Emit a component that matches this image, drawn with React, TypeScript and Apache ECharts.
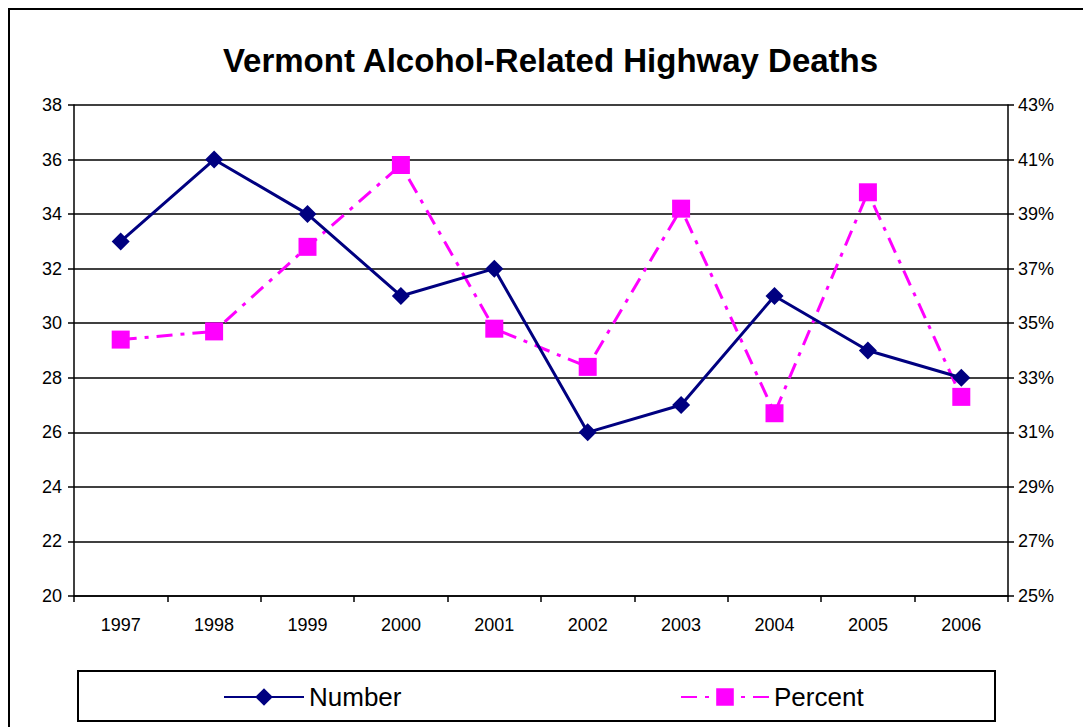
import React, { useEffect, useRef } from "react";
import * as echarts from "echarts";

const years = ["1997", "1998", "1999", "2000", "2001", "2002", "2003", "2004", "2005", "2006"];
const numberValues = [33, 36, 34, 31, 32, 26, 27, 31, 29, 28];
const percentValues = [34.4, 34.7, 37.8, 40.8, 34.8, 33.4, 39.2, 31.7, 39.8, 32.3];
const titleText = "Vermont Alcohol-Related Highway Deaths";

const FONT = "'Liberation Sans', Arial, sans-serif";

export default function App() {
  const ref = useRef<HTMLDivElement>(null);
  useEffect(() => {
    if (!ref.current) return;
    const chart = echarts.init(ref.current, null, { renderer: "svg" });
    chart.setOption({
      animation: false,
      backgroundColor: "#fff",
      textStyle: { fontFamily: FONT, color: "#000" },
      title: {
        text: titleText,
        left: "center",
        top: 29,
        textStyle: { fontFamily: FONT, fontSize: 33, fontWeight: "bold", color: "#000" },
      },
      grid: { left: 64, right: 83, top: 95, bottom: 131, containLabel: false },
      legend: [
        {
          data: ["Number"],
          left: 208,
          top: 669,
          itemWidth: 80,
          itemHeight: 22,
          itemGap: 6,
          textStyle: { fontFamily: FONT, fontSize: 26, color: "#000" },
        },
        {
          data: ["Percent"],
          left: 665,
          top: 669,
          itemWidth: 88,
          itemHeight: 22,
          itemGap: 6,
          textStyle: { fontFamily: FONT, fontSize: 26, color: "#000" },
        },
      ],
      xAxis: {
        type: "category",
        data: years,
        boundaryGap: true,
        axisLine: { show: true, lineStyle: { color: "#000", width: 1.5 } },
        axisTick: { show: true, interval: 0, length: 6, lineStyle: { color: "#000", width: 1.5 } },
        axisLabel: { fontFamily: FONT, fontSize: 18, color: "#000", margin: 20, interval: 0 },
        splitLine: { show: false },
      },
      yAxis: [
        {
          type: "value",
          min: 20,
          max: 38,
          interval: 2,
          axisLine: { show: true, lineStyle: { color: "#000", width: 1.5 } },
          axisTick: { show: true, length: 6, lineStyle: { color: "#000", width: 1.5 } },
          axisLabel: { fontFamily: FONT, fontSize: 18, color: "#000", margin: 12 },
          splitLine: { show: true, lineStyle: { color: "#000", width: 1.5 } },
        },
        {
          type: "value",
          min: 25,
          max: 43,
          interval: 2,
          position: "right",
          axisLine: { show: true, lineStyle: { color: "#000", width: 1.5 } },
          axisTick: { show: true, length: 6, lineStyle: { color: "#000", width: 1.5 } },
          axisLabel: { fontFamily: FONT, fontSize: 18, color: "#000", margin: 10, formatter: "{value}%" },
          splitLine: { show: false },
        },
      ],
      graphic: [
        {
          type: "rect",
          shape: { x: 68, y: 661, width: 917, height: 50 },
          style: { fill: "none", stroke: "#000", lineWidth: 2 },
          z: 0,
        },
      ],
      series: [
        {
          name: "Number",
          type: "line",
          data: numberValues,
          yAxisIndex: 0,
          symbol: "diamond",
          symbolSize: 18,
          color: "#000080",
          lineStyle: { color: "#000080", width: 3 },
          itemStyle: { color: "#000080" },
          z: 3,
        },
        {
          name: "Percent",
          type: "line",
          data: percentValues,
          yAxisIndex: 1,
          symbol: "rect",
          symbolSize: 18,
          color: "#FF00FF",
          lineStyle: { color: "#FF00FF", width: 3, type: [16, 8, 4, 8] },
          itemStyle: { color: "#FF00FF" },
          z: 2,
        },
      ],
    });
    return () => chart.dispose();
  }, []);
  return (
    <div
      style={{
        borderLeft: "2px solid #000",
        borderTop: "2px solid #000",
        width: 1081,
        height: 717,
        overflow: "hidden",
      }}
    >
      <div ref={ref} style={{ width: 1081, height: 717 }} />
    </div>
  );
}
